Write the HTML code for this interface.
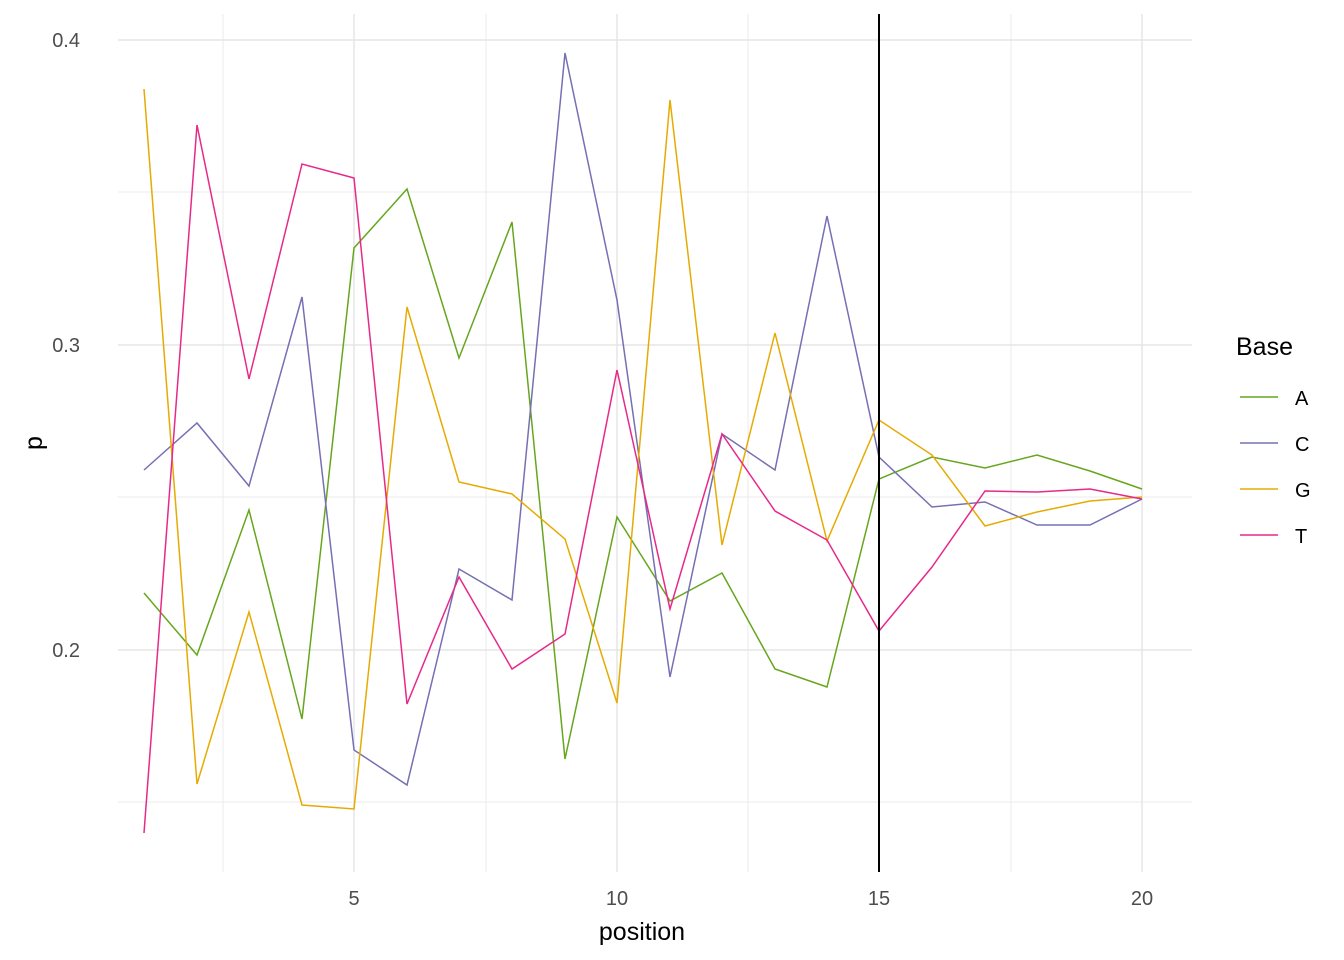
<!DOCTYPE html>
<html><head><style>body{margin:0;background:#fff}svg{display:block}text{font-family:"Liberation Sans",sans-serif}</style></head><body>
<svg width="1344" height="960" viewBox="0 0 1344 960">
<g stroke="#ebebeb" stroke-width="1">
<line x1="118" x2="1192" y1="192" y2="192"/><line x1="118" x2="1192" y1="497" y2="497"/><line x1="118" x2="1192" y1="802" y2="802"/>
<line x1="223" x2="223" y1="14" y2="872"/><line x1="486" x2="486" y1="14" y2="872"/><line x1="748" x2="748" y1="14" y2="872"/><line x1="1011" x2="1011" y1="14" y2="872"/>
</g>
<g stroke="#e5e5e5" stroke-width="1.5">
<line x1="118" x2="1192" y1="40" y2="40"/><line x1="118" x2="1192" y1="345" y2="345"/><line x1="118" x2="1192" y1="650" y2="650"/>
<line x1="354" x2="354" y1="14" y2="872"/><line x1="617" x2="617" y1="14" y2="872"/><line x1="879" x2="879" y1="14" y2="872"/><line x1="1142" x2="1142" y1="14" y2="872"/>
</g>
<g fill="none" stroke-width="1.5">
<polyline stroke="#66a61e" points="144,593 197,655 249,510 302,719 354,248 407,189 459,358 512,222 565,759 617,517 670,601 722,573 775,669 827,687 879,479 932,457 985,468 1037,455 1090,471 1142,489"/>
<polyline stroke="#7570b3" points="144,470 197,423 249,486 302,297 354,750 407,785 459,569 512,600 565,53 617,300 670,677 722,434 775,470 827,216 879,457 932,507 985,502 1037,525 1090,525 1142,499"/>
<polyline stroke="#e6ab02" points="144,89 197,784 249,612 302,805 354,809 407,307 459,482 512,494 565,539 617,703 670,100 722,545 775,333 827,541 879,420 932,455 985,526 1037,512 1090,501 1142,497"/>
<polyline stroke="#e7298a" points="144,833 197,125 249,379 302,164 354,178 407,704 459,577 512,669 565,634 617,370 670,609 722,434 775,511 827,540 879,631 932,567 985,491 1037,492 1090,489 1142,499"/>
</g>
<line x1="879" x2="879" y1="14" y2="872" stroke="#000" stroke-width="2"/>
<g fill="#4d4d4d" font-size="20" text-anchor="end">
<text x="80" y="47">0.4</text><text x="80" y="352">0.3</text><text x="80" y="657">0.2</text></g>
<g fill="#4d4d4d" font-size="20" text-anchor="middle">
<text x="354" y="905">5</text><text x="617" y="905">10</text><text x="879" y="905">15</text><text x="1142" y="905">20</text></g>
<text x="642" y="940" font-size="25" text-anchor="middle">position</text>
<text x="42" y="443" font-size="25" text-anchor="middle" transform="rotate(-90 42 443)">p</text>
<text x="1236" y="355" font-size="25">Base</text>
<g stroke-width="1.5"><line x1="1240" x2="1278" y1="397" y2="397" stroke="#66a61e"/><line x1="1240" x2="1278" y1="443" y2="443" stroke="#7570b3"/><line x1="1240" x2="1278" y1="489" y2="489" stroke="#e6ab02"/><line x1="1240" x2="1278" y1="535" y2="535" stroke="#e7298a"/></g>
<g font-size="20"><text x="1295" y="405">A</text><text x="1295" y="451">C</text><text x="1295" y="497">G</text><text x="1295" y="543">T</text></g>
</svg></body></html>
